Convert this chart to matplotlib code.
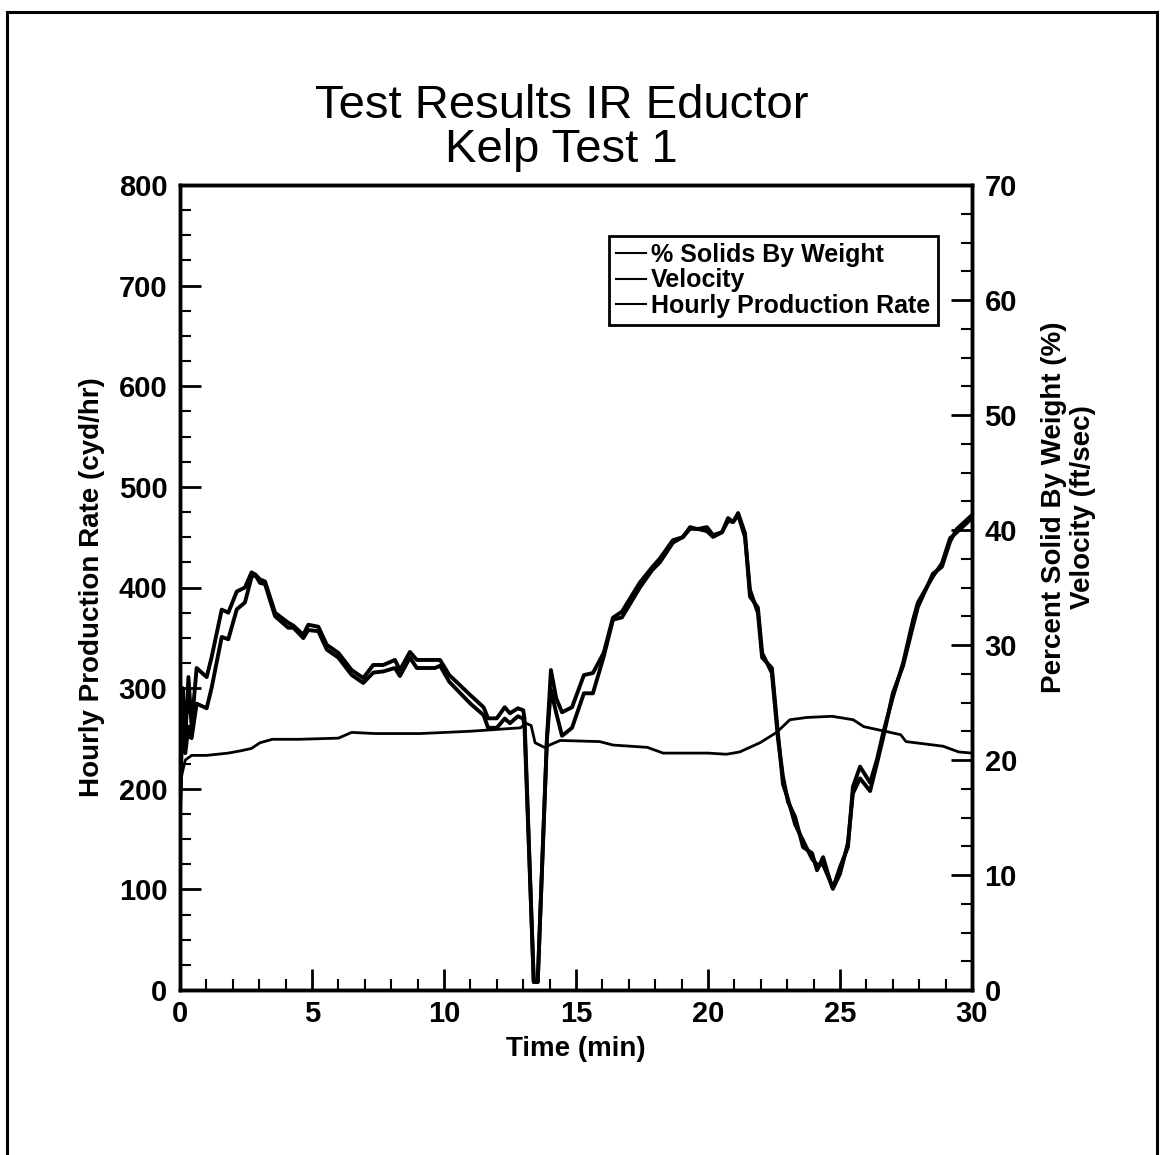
import numpy as np
import matplotlib
matplotlib.use('Agg')
import matplotlib.pyplot as plt
from matplotlib.ticker import MultipleLocator
from matplotlib.patches import Rectangle

plt.rcParams['font.family'] = ['Liberation Sans', 'DejaVu Sans']

# time axis shared by production rate and % solids (min)
t_main = [0, 0.1, 0.2, 0.32, 0.44, 0.63, 1.01, 1.2, 1.58, 1.83, 2.15, 2.46, 2.71, 2.85,
          3.03, 3.22, 3.6, 4.1, 4.3, 4.67, 4.86, 5.24, 5.56, 6.0, 6.5, 6.94, 7.32, 7.7,
          8.14, 8.33, 8.71, 8.97, 9.66, 9.85, 10.2, 11.0, 11.5, 11.67, 12.0, 12.3, 12.5,
          12.8, 13.0, 13.05, 13.4, 13.55, 13.9, 14.05, 14.25, 14.47, 14.85, 15.3, 15.64,
          16.05, 16.4, 16.74, 17.42, 17.88, 18.18, 18.67, 19.05, 19.32, 19.6, 19.96, 20.19,
          20.53, 20.76, 20.95, 21.14, 21.4, 21.59, 21.89, 22.05, 22.42, 22.65, 22.84, 23.03,
          23.3, 23.6, 23.94, 24.13, 24.36, 24.62, 24.73, 25.0, 25.3, 25.49, 25.76, 26.14,
          26.4, 26.63, 27.0, 27.39, 27.77, 27.95, 28.52, 28.86, 29.17, 29.43, 30.0]

# hourly production rate (cyd/hr)
production = [180, 300, 250, 311, 262, 320, 311, 331, 378, 375, 396, 400, 415, 413,
              408, 406, 375, 365, 362, 353, 363, 361, 343, 335, 318, 310, 323, 323,
              328, 318, 336, 328, 328, 328, 313, 293, 281, 270, 270, 281, 275,
              280, 278, 270, 8, 8, 250, 318, 290, 276, 281, 313, 315,
              335, 370, 376, 405, 420, 429, 447, 450, 460, 458, 460, 452,
              455, 469, 465, 474, 454, 391, 380, 335, 315, 250, 212, 187,
              172, 142, 136, 119, 132, 109, 101, 122, 142, 202, 222, 206,
              229, 255, 291, 325, 368, 385, 411, 424, 449, 455, 469]

# % solids by weight
solids = [15.8, 24.5, 20.6, 22.9, 21.9, 24.9, 24.5, 26.3, 30.7, 30.5, 33.1, 33.7, 35.9, 36.1,
          35.4, 35.3, 32.5, 31.5, 31.5, 30.6, 31.3, 31.2, 29.6, 28.9, 27.4, 26.7, 27.6, 27.7,
          28.0, 27.3, 28.9, 28.0, 28.0, 28.2, 26.8, 24.9, 23.9, 22.8, 22.8, 23.6, 23.2,
          23.8, 23.6, 22.9, 0.7, 0.7, 21.9, 26.1, 24.1, 22.1, 22.8, 25.8, 25.8,
          29.0, 32.2, 32.4, 35.0, 36.5, 37.2, 38.9, 39.4, 40.1, 40.1, 39.9, 39.4,
          39.8, 40.8, 40.7, 41.3, 39.4, 34.8, 32.8, 28.9, 28.0, 22.3, 17.9, 16.6,
          14.4, 13.0, 11.4, 10.9, 10.9, 9.5, 8.8, 10.1, 12.8, 17.1, 18.4, 17.3,
          19.7, 21.9, 25.8, 28.2, 31.7, 33.3, 36.2, 36.8, 39.0, 40.1, 41.3]

# velocity (ft/sec)
t_vel = [0, 0.05, 0.2, 0.44, 1.0, 1.83, 2.3, 2.7, 3.03, 3.5, 4.5, 6.0, 6.5, 7.4, 9.1, 11.0,
         12.9, 13.1, 13.3, 13.45, 13.8, 14.4, 15.9, 16.4, 17.7, 18.3, 20.0, 20.7, 21.2,
         21.97, 22.6, 23.1, 23.75, 24.7, 25.5, 25.9, 26.5, 27.3, 27.5, 28.9, 29.5, 30.0]
velocity = [15.5, 18.5, 20.0, 20.4, 20.4, 20.6, 20.8, 21.0, 21.5, 21.8, 21.8, 21.9, 22.4,
            22.3, 22.3, 22.5, 22.8, 23.2, 23.0, 21.5, 21.1, 21.7, 21.6, 21.3, 21.1, 20.6,
            20.6, 20.5, 20.7, 21.5, 22.4, 23.5, 23.7, 23.8, 23.5, 22.9, 22.6, 22.2, 21.6,
            21.2, 20.7, 20.6]

fig = plt.figure(figsize=(11.63, 11.55), dpi=100)
ax = fig.add_axes([180/1163, 165/1155, 792/1163, 805/1155])
ax2 = ax.twinx()

l3, = ax.plot(t_main, production, color='black', lw=2.8, label='Hourly Production Rate')
l1, = ax2.plot(t_main, solids, color='black', lw=2.8, label='% Solids By Weight')
l2, = ax2.plot(t_vel, velocity, color='black', lw=2.0, label='Velocity')

ax.set_xlim(0, 30)
ax.set_ylim(0, 800)
ax2.set_ylim(0, 70)

ax.xaxis.set_major_locator(MultipleLocator(5))
ax.xaxis.set_minor_locator(MultipleLocator(1))
ax.yaxis.set_major_locator(MultipleLocator(100))
ax.yaxis.set_minor_locator(MultipleLocator(25))
ax2.yaxis.set_major_locator(MultipleLocator(10))
ax2.yaxis.set_minor_locator(MultipleLocator(2.5))

for a in (ax, ax2):
    a.tick_params(which='major', direction='in', length=15, width=2, labelsize=21, pad=9)
    a.tick_params(which='minor', direction='in', length=8, width=1.5)
    for s in a.spines.values():
        s.set_linewidth(2.5)
    for lab in a.get_xticklabels() + a.get_yticklabels():
        lab.set_fontweight('bold')
ax.tick_params(axis='x', which='both', top=False, pad=7)

ax.set_xlabel('Time (min)', fontsize=20, fontweight='bold', labelpad=6)
ax.set_ylabel('Hourly Production Rate (cyd/hr)', fontsize=20, fontweight='bold', labelpad=10)
ax2.set_ylabel('Percent Solid By Weight (%)\nVelocity (ft/sec)', fontsize=20,
               fontweight='bold', rotation=90, linespacing=1.15)
ax2.yaxis.set_label_coords(1.087, 0.60)

fig.text(0.483, 0.908, 'Test Results IR Eductor', ha='center', va='center', fontsize=34)
fig.text(0.483, 0.870, 'Kelp Test 1', ha='center', va='center', fontsize=34)

leg = ax.legend([l1, l2, l3], ['% Solids By Weight', 'Velocity', 'Hourly Production Rate'],
                loc='upper right', bbox_to_anchor=(0.957, 0.937), fancybox=False,
                edgecolor='black', framealpha=1, handlelength=1.2, handletextpad=0.2,
                labelspacing=0.05, borderpad=0.3, borderaxespad=0,
                prop={'weight': 'bold', 'size': 18})
leg.get_frame().set_linewidth(2)
for h in leg.get_lines():
    h.set_linewidth(1.5)

fig.patches.append(Rectangle((7/1163, -0.01), 1150/1163, 1.0, transform=fig.transFigure,
                             fill=False, edgecolor='black', lw=2.2))

fig.savefig('out.png', dpi=100)
